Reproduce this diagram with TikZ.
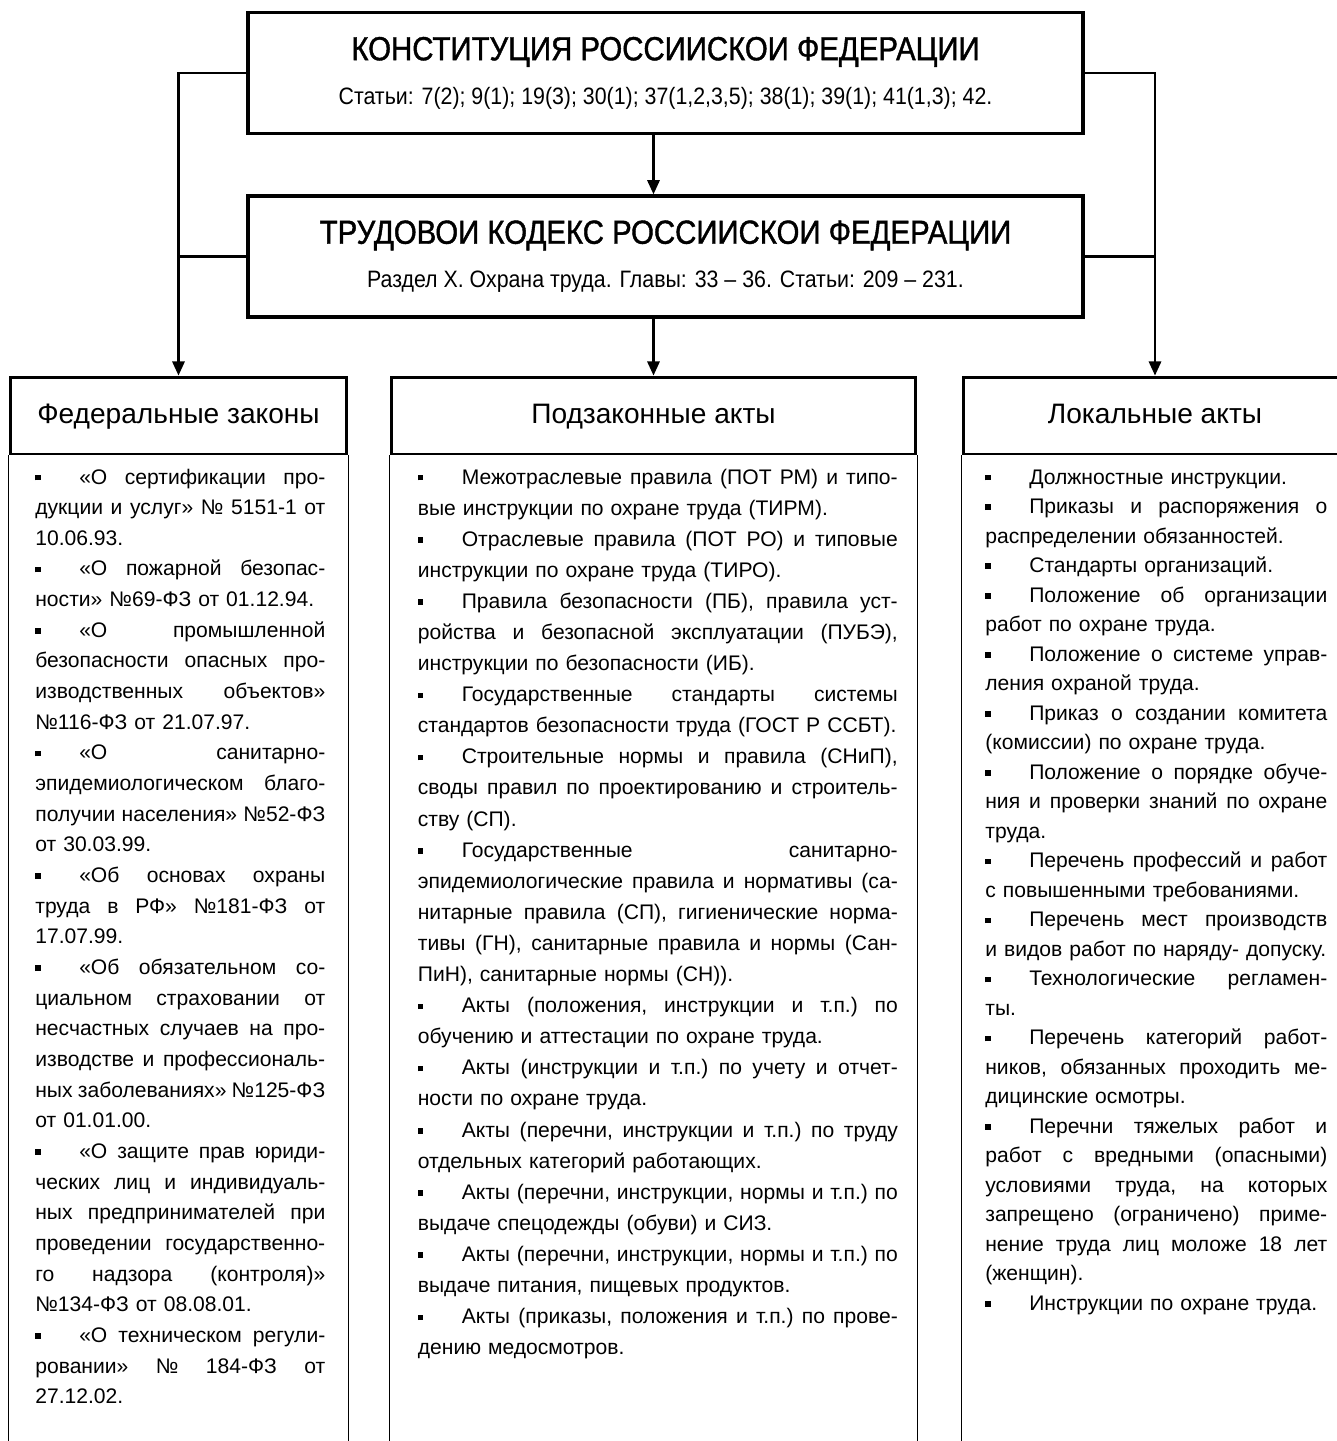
\documentclass[tikz,border=0pt]{standalone}
\usepackage{fontspec}
\setmainfont{Liberation Sans}
\newfontfamily\narrowfont[FakeStretch=0.9]{Liberation Sans}
\newfontfamily\titlefont[FakeStretch=0.88, FakeBold=1.2]{Liberation Sans}
\usetikzlibrary{arrows.meta}

% one line of a list: bullet, justified line, last line of an item
\newlength{\colw}
\newcommand{\bul}{\hbox to 25pt{\rule[2pt]{3.2pt}{3.2pt}\hss}}
\newcommand{\jl}[1]{\hbox to\colw{\frenchspacing\spaceskip=0.28em plus 1fil minus 0.05em #1}}
\newcommand{\el}[1]{\hbox to\colw{\frenchspacing #1\hfil}}
\hbadness=10000

\begin{document}
\begin{tikzpicture}[x=0.02cm, y=-0.02cm,
	mainbox/.style={draw, line width=2pt, minimum width=16.7cm, minimum height=2.42cm, inner sep=0pt, align=center, font=\narrowfont\fontsize{13.5}{25}\selectfont},
	headbox/.style={draw, line width=1.7pt, minimum height=1.54cm, inner sep=0pt, text height=12pt, text depth=3pt, font=\fontsize{16}{19}\selectfont},
	bodytext/.style={inner sep=0pt, anchor=base west, text width=#1, execute at begin node={\setlength{\colw}{#1}}},
	link/.style={line width=1.2pt, -{Triangle[length=8pt,width=7pt]}},
	feed/.style={line width=1.2pt},
	side/.style={line width=0.9pt}]
	\path[use as bounding box] (0,0) rectangle (1337,1441);
	\clip (0,0) rectangle (1337,1441);
	\coordinate (bottom) at (0,1441);
	
	% constitution and labour code
	\node[mainbox] (konst) at (665.5,73) {{\titlefont\fontsize{19}{25}\selectfont КОНСТИТУЦИЯ РОССИИСКОИ ФЕДЕРАЦИИ}\\
		Статьи: 7(2); 9(1); 19(3); 30(1); 37(1,2,3,5); 38(1); 39(1); 41(1,3); 42.};
	\node[mainbox] (tk) at (665.5,256.5) {{\titlefont\fontsize{19}{25}\selectfont ТРУДОВОИ КОДЕКС РОССИИСКОИ ФЕДЕРАЦИИ}\\
		Раздел X. Охрана труда. Главы: 33 – 36. Статьи: 209 – 231.};
	
	% headers
	\node[headbox, minimum width=6.74cm] (fed) at (178.5,415.5) {Федеральные законы};
	\node[headbox, minimum width=10.5cm] (podz) at (653.5,415.5) {Подзаконные акты};
	\node[headbox, minimum width=7.68cm] (lok) at (1155,415.5) {Локальные акты};
	
	% column sides
	\foreach \col in {fed, podz, lok}
	{
		\draw[side] (\col.south west) -- (\col.south west |- bottom);
		\draw[side] (\col.south east) -- (\col.south east |- bottom);
	}
	
	% connectors
	\draw[link] (konst.west) -| (fed.north);
	\draw[link] (konst.east) -| (lok.north);
	\draw[link] (konst.south -| podz.north) -- (tk.north -| podz.north);
	\draw[feed] (tk.west) -- (tk.west -| fed.north);
	\draw[feed] (tk.east) -- (tk.east -| lok.north);
	\draw[link] (tk.south -| podz.north) -- (podz.north);
	
	% federal laws
	\node[bodytext=5.8cm, font=\fontsize{12}{17.45}\selectfont] (fedtxt) at (35,484) {%
		\jl{\bul «О сертификации про-}
		\jl{дукции и услуг» № 5151-1 от}
		\el{10.06.93.}
		\jl{\bul «О пожарной безопас-}
		\el{ности» №69-ФЗ от 01.12.94.}
		\jl{\bul «О промышленной}
		\jl{безопасности опасных про-}
		\jl{изводственных объектов»}
		\el{№116-ФЗ от 21.07.97.}
		\jl{\bul «О санитарно-}
		\jl{эпидемиологическом благо-}
		\jl{получии населения» №52-ФЗ}
		\el{от 30.03.99.}
		\jl{\bul «Об основах охраны}
		\jl{труда в РФ» №181-ФЗ от}
		\el{17.07.99.}
		\jl{\bul «Об обязательном со-}
		\jl{циальном страховании от}
		\jl{несчастных случаев на про-}
		\jl{изводстве и профессиональ-}
		\jl{ных заболеваниях» №125-ФЗ}
		\el{от 01.01.00.}
		\jl{\bul «О защите прав юриди-}
		\jl{ческих лиц и индивидуаль-}
		\jl{ных предпринимателей при}
		\jl{проведении государственно-}
		\jl{го надзора (контроля)»}
		\el{№134-ФЗ от 08.08.01.}
		\jl{\bul «О техническом регули-}
		\jl{ровании» № 184-ФЗ от}
		\el{27.12.02.}};
	
	% by-laws
	\node[bodytext=9.6cm, font=\fontsize{12}{17.7}\selectfont] (podztxt) at (417.5,484) {%
		\jl{\bul Межотраслевые правила (ПОТ РМ) и типо-}
		\el{вые инструкции по охране труда (ТИРМ).}
		\jl{\bul Отраслевые правила (ПОТ РО) и типовые}
		\el{инструкции по охране труда (ТИРО).}
		\jl{\bul Правила безопасности (ПБ), правила уст-}
		\jl{ройства и безопасной эксплуатации (ПУБЭ),}
		\el{инструкции по безопасности (ИБ).}
		\jl{\bul Государственные стандарты системы}
		\el{стандартов безопасности труда (ГОСТ Р ССБТ).}
		\jl{\bul Строительные нормы и правила (СНиП),}
		\jl{своды правил по проектированию и строитель-}
		\el{ству (СП).}
		\jl{\bul Государственные санитарно-}
		\jl{эпидемиологические правила и нормативы (са-}
		\jl{нитарные правила (СП), гигиенические норма-}
		\jl{тивы (ГН), санитарные правила и нормы (Сан-}
		\el{ПиН), санитарные нормы (СН)).}
		\jl{\bul Акты (положения, инструкции и т.п.) по}
		\el{обучению и аттестации по охране труда.}
		\jl{\bul Акты (инструкции и т.п.) по учету и отчет-}
		\el{ности по охране труда.}
		\jl{\bul Акты (перечни, инструкции и т.п.) по труду}
		\el{отдельных категорий работающих.}
		\jl{\bul Акты (перечни, инструкции, нормы и т.п.) по}
		\el{выдаче спецодежды (обуви) и СИЗ.}
		\jl{\bul Акты (перечни, инструкции, нормы и т.п.) по}
		\el{выдаче питания, пищевых продуктов.}
		\jl{\bul Акты (приказы, положения и т.п.) по прове-}
		\el{дению медосмотров.}};
	
	% local acts
	\node[bodytext=6.84cm, font=\fontsize{12}{16.8}\selectfont] (loktxt) at (985,484) {%
		\el{\bul Должностные инструкции.}
		\jl{\bul Приказы и распоряжения о}
		\el{распределении обязанностей.}
		\el{\bul Стандарты организаций.}
		\jl{\bul Положение об организации}
		\el{работ по охране труда.}
		\jl{\bul Положение о системе управ-}
		\el{ления охраной труда.}
		\jl{\bul Приказ о создании комитета}
		\el{(комиссии) по охране труда.}
		\jl{\bul Положение о порядке обуче-}
		\jl{ния и проверки знаний по охране}
		\el{труда.}
		\jl{\bul Перечень профессий и работ}
		\el{с повышенными требованиями.}
		\jl{\bul Перечень мест производств}
		\el{и видов работ по наряду- допуску.}
		\jl{\bul Технологические регламен-}
		\el{ты.}
		\jl{\bul Перечень категорий работ-}
		\jl{ников, обязанных проходить ме-}
		\el{дицинские осмотры.}
		\jl{\bul Перечни тяжелых работ и}
		\jl{работ с вредными (опасными)}
		\jl{условиями труда, на которых}
		\jl{запрещено (ограничено) приме-}
		\jl{нение труда лиц моложе 18 лет}
		\el{(женщин).}
		\el{\bul Инструкции по охране труда.}};
\end{tikzpicture}
\end{document}
